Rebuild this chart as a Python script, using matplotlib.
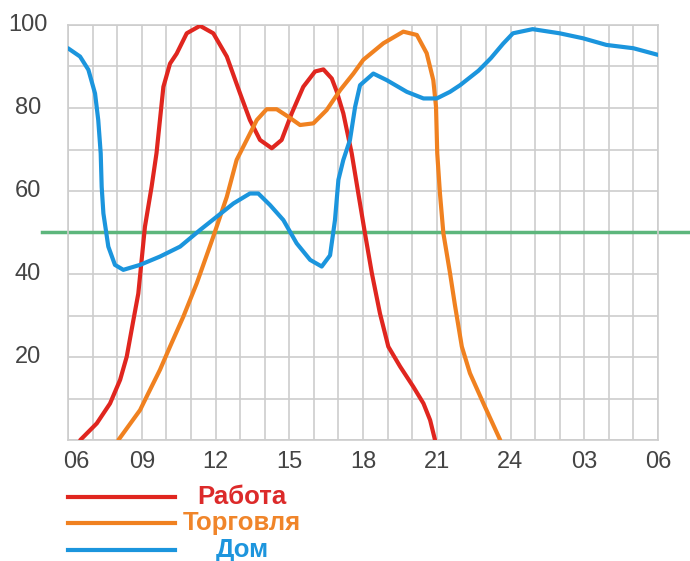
import matplotlib
matplotlib.use('Agg')
import matplotlib.pyplot as plt
from matplotlib.lines import Line2D
from matplotlib.transforms import ScaledTranslation

plt.rcParams['font.family'] = ['Liberation Sans', 'DejaVu Sans']

# ---- data (hours from 06:00, 6..30) ----
work_x = [6.5, 7.17, 7.71, 8.12, 8.39, 8.66, 8.86, 9.13, 9.4, 9.6, 9.74, 9.88, 10.15, 10.42,
          10.83, 11.37, 11.91, 12.46, 13.0, 13.4, 13.81, 14.29, 14.69, 15.1, 15.57, 16.05,
          16.39, 16.73, 16.93, 17.2, 17.54, 17.81, 18.08, 18.36, 18.69, 19.03, 19.51,
          20.05, 20.46, 20.73, 20.93]
work_y = [0, 4, 8.8, 14.5, 20.1, 28.9, 35.3, 51.4, 61, 69.1, 77.1, 85.1, 90.7, 93.1,
          98, 99.8, 98, 92.4, 83.5, 77.1, 72.3, 70.3, 72.3, 78.7, 85.1, 88.8,
          89.3, 87.1, 84, 78.7, 69.1, 59.4, 49.8, 40.2, 30.5, 22.5, 17.7,
          12.8, 8.8, 4.8, 0]

trade_x = [8.05, 8.93, 9.27, 9.74, 10.15, 10.69, 11.24, 11.91, 12.46, 12.86, 13.27, 13.68,
           14.08, 14.49, 14.96, 15.44, 15.98, 16.52, 17.07, 17.61, 18.01, 18.83, 19.64,
           20.19, 20.59, 20.86, 20.97, 21.02, 21.13, 21.27, 21.54, 21.74, 22.02, 22.35,
           22.9, 23.58]
trade_y = [0, 7.2, 11.3, 16.9, 22.5, 29.7, 37.8, 49, 58.6, 67.5, 72.3, 77.1,
           79.7, 79.7, 77.9, 75.9, 76.3, 79.5, 84.3, 88.3, 91.6, 95.6, 98.4,
           97.6, 93.2, 86.7, 80.3, 69.1, 59.4, 49.8, 40.2, 32.5, 22.5, 16.1,
           8.8, 0]

home_x = [6.0, 6.49, 6.83, 7.1, 7.23, 7.33, 7.37, 7.44, 7.64, 7.91, 8.25, 8.93, 9.74, 10.56,
          11.37, 12.05, 12.73, 13.4, 13.74, 14.22, 14.76, 15.3, 15.85, 16.32, 16.66,
          16.86, 17.0, 17.2, 17.47, 17.68, 17.88, 18.42, 18.97, 19.78, 20.46, 21.0,
          21.54, 21.95, 22.7, 23.2, 23.7, 24.1, 24.9, 26.0, 26.95, 27.9, 29.0, 30.0]
home_y = [94.4, 92.4, 89.2, 83.5, 77.1, 69.1, 61, 54.6, 46.6, 42.2, 41, 42.2, 44.2, 46.6,
          50.6, 53.8, 57, 59.4, 59.4, 56.6, 53, 47.4, 43.4, 41.8, 44.5,
          53, 62.7, 67.5, 72.3, 80.3, 85.5, 88.3, 86.7, 83.9, 82.3, 82.3,
          83.9, 85.5, 89, 92, 95.5, 98, 99, 98, 96.8, 95.2, 94.4, 92.8]

x_ticks = [6, 9, 12, 15, 18, 21, 24, 27, 30]
x_labels = ['06', '09', '12', '15', '18', '21', '24', '03', '06']
y_ticks = [20, 40, 60, 80, 100]
y_labels = ['20', '40', '60', '80', '100']
threshold = 50

series_names = ['Работа', 'Торговля', 'Дом']
line_colors = ['#e0261f', '#f08120', '#1b95dd']
text_colors = ['#dc2a2a', '#f0852a', '#1d95dd']

# ---- figure ----
fig = plt.figure(figsize=(6.9, 5.61), dpi=100)
ax = fig.add_axes([68/690, 121/561, 590/690, 415/561])
ax.set_xlim(6, 30)
ax.set_ylim(0, 100)

grid_col = '#cdcdcd'
ax.set_xticks(range(6, 31), minor=True)
ax.set_yticks(range(0, 101, 10), minor=True)
ax.grid(which='minor', color=grid_col, lw=1.2)
ax.grid(which='major', color=grid_col, lw=1.2)
for s in ax.spines.values():
    s.set_color(grid_col)
    s.set_linewidth(1.2)

ax.set_xticks(x_ticks)
ax.set_xticklabels(x_labels)
ax.set_yticks(y_ticks)
ax.set_yticklabels(y_labels)
ax.tick_params(which='both', length=0)
ax.tick_params(axis='x', pad=15.8, labelsize=17, labelcolor='#444444')
ax.tick_params(axis='y', pad=28.8, labelsize=17, labelcolor='#444444')
for lab in ax.get_yticklabels():
    lab.set_ha('center')
    lab.set_va('center')
for lab in ax.get_xticklabels():
    lab.set_va('center')
first = ax.get_xticklabels()[0]
first.set_transform(first.get_transform() + ScaledTranslation(8/100, 0, fig.dpi_scale_trans))

ax.axhline(threshold, xmin=-0.044, xmax=1.06, clip_on=False, color='#5db67c', lw=2.5, zorder=2)

for xs, ys, c in zip([work_x, trade_x, home_x], [work_y, trade_y, home_y], line_colors):
    ax.plot(xs, ys, color=c, lw=3, solid_capstyle='round', solid_joinstyle='round', zorder=3)

# ---- legend ----
leg_y = [497, 523, 550]
for name, lc, tc, yy in zip(series_names, line_colors, text_colors, leg_y):
    yf = 1 - yy/561
    fig.add_artist(Line2D([68/690, 175/690], [yf, yf], color=lc, lw=3,
                          transform=fig.transFigure))
    fig.text(242/690, yf, name, color=tc, fontsize=18.5, fontweight='bold',
             ha='center', va='center')

fig.savefig('out.png', dpi=100)
